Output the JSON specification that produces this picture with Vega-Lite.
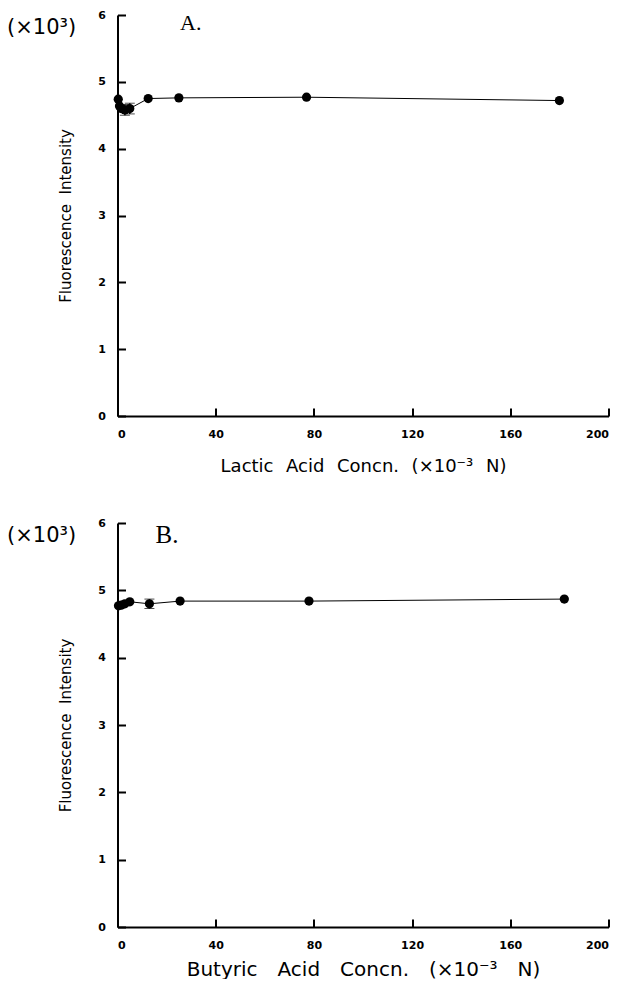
{
  "$schema": "https://vega.github.io/schema/vega-lite/v6.json",
  "padding": {"left": 6.5, "top": 9, "right": 0, "bottom": 0},
  "background": "white",
  "bounds": "flush",
  "spacing": 107,
  "config": {
    "view": {"stroke": null},
    "axis": {
      "domainColor": "black",
      "domainWidth": 2,
      "tickColor": "black",
      "tickWidth": 2,
      "tickSize": -8,
      "grid": false,
      "labelFont": "DejaVu Sans",
      "labelFontWeight": "bold",
      "labelFontSize": 11,
      "labelColor": "black",
      "titleFont": "DejaVu Sans",
      "titleFontWeight": "normal",
      "titleFontSize": 16,
      "titleColor": "black"
    }
  },
  "datasets": {
    "lactic": [
      {"conc": 0.3, "fi": 4.74},
      {"conc": 0.8, "fi": 4.64},
      {"conc": 1.5, "fi": 4.6},
      {"conc": 3, "fi": 4.58, "lo": 4.5, "hi": 4.66},
      {"conc": 5, "fi": 4.6, "lo": 4.52, "hi": 4.68},
      {"conc": 12.5, "fi": 4.75},
      {"conc": 25, "fi": 4.76},
      {"conc": 77, "fi": 4.77},
      {"conc": 180, "fi": 4.72}
    ],
    "butyric": [
      {"conc": 0.4, "fi": 4.77},
      {"conc": 1.5, "fi": 4.78},
      {"conc": 3, "fi": 4.8},
      {"conc": 5, "fi": 4.83},
      {"conc": 13, "fi": 4.8, "lo": 4.73, "hi": 4.87},
      {"conc": 25.5, "fi": 4.84},
      {"conc": 78, "fi": 4.84},
      {"conc": 182, "fi": 4.87}
    ]
  },
  "vconcat": [
    {
      "width": 491,
      "height": 401,
      "data": {"name": "lactic"},
      "layer": [
        {"mark": {"type": "line", "color": "black", "strokeWidth": 1},
         "encoding": {
          "x": {"field": "conc", "type": "quantitative", "scale": {"domain": [0, 200], "nice": false},
            "axis": {"values": [0, 40, 80, 120, 160, 200], "labelPadding": 20, "titlePadding": 18, "titleFontSize": 18,
              "title": "Lactic\u2002\u2009Acid\u2002\u2009Concn.\u2002\u2009(×10⁻³\u2002\u2009N)"}},
          "y": {"field": "fi", "type": "quantitative", "scale": {"domain": [0, 6], "nice": false},
            "axis": {"values": [0, 1, 2, 3, 4, 5, 6], "format": "d", "labelPadding": 20, "titleFontSize": 15, "title": "Fluorescence\u00a0\u00a0Intensity", "titleX": -44}}
         }},
        {"transform": [{"filter": "datum.lo != null"}],
         "mark": {"type": "errorbar", "ticks": {"size": 10, "color": "black", "strokeWidth": 1.5}, "rule": {"color": "black", "strokeWidth": 1.5}},
         "encoding": {"x": {"field": "conc", "type": "quantitative"},
           "y": {"field": "lo", "type": "quantitative", "title": "Fluorescence\u00a0\u00a0Intensity",
             "axis": {"values": [0, 1, 2, 3, 4, 5, 6], "format": "d", "labelPadding": 20, "titleFontSize": 15, "titleX": -44}},
           "y2": {"field": "hi"}}},
        {"mark": {"type": "circle", "color": "black", "opacity": 1, "size": 85},
         "encoding": {"x": {"field": "conc", "type": "quantitative"}, "y": {"field": "fi", "type": "quantitative"}}},
        {"transform": [{"aggregate": [{"op": "count", "as": "n"}]}],
         "mark": {"type": "text", "font": "Liberation Serif", "fontSize": 22, "fontWeight": "normal", "align": "left", "baseline": "alphabetic", "color": "black"},
         "encoding": {"x": {"datum": 25.5}, "y": {"datum": 5.775}, "text": {"value": "A."}}},
        {"transform": [{"aggregate": [{"op": "count", "as": "n"}]}],
         "mark": {"type": "text", "font": "DejaVu Sans", "fontSize": 21, "fontWeight": "normal", "align": "left", "baseline": "middle", "color": "black"},
         "encoding": {"x": {"datum": -45}, "y": {"datum": 5.8}, "text": {"value": "(×10³)"}}}
      ]
    },
    {
      "width": 491,
      "height": 404,
      "data": {"name": "butyric"},
      "layer": [
        {"mark": {"type": "line", "color": "black", "strokeWidth": 1},
         "encoding": {
          "x": {"field": "conc", "type": "quantitative", "scale": {"domain": [0, 200], "nice": false},
            "axis": {"values": [0, 40, 80, 120, 160, 200], "labelPadding": 20, "titlePadding": 9, "titleFontSize": 20,
              "title": "Butyric\u2002\u2002Acid\u2002\u2002Concn.\u2002\u2002(×10⁻³\u2002\u2002N)"}},
          "y": {"field": "fi", "type": "quantitative", "scale": {"domain": [0, 6], "nice": false},
            "axis": {"values": [0, 1, 2, 3, 4, 5, 6], "format": "d", "labelPadding": 20, "titleFontSize": 15, "title": "Fluorescence\u00a0\u00a0Intensity", "titleX": -44}}
         }},
        {"transform": [{"filter": "datum.lo != null"}],
         "mark": {"type": "errorbar", "ticks": {"size": 10, "color": "black", "strokeWidth": 1.5}, "rule": {"color": "black", "strokeWidth": 1.5}},
         "encoding": {"x": {"field": "conc", "type": "quantitative"},
           "y": {"field": "lo", "type": "quantitative", "title": "Fluorescence\u00a0\u00a0Intensity",
             "axis": {"values": [0, 1, 2, 3, 4, 5, 6], "format": "d", "labelPadding": 20, "titleFontSize": 15, "titleX": -44}},
           "y2": {"field": "hi"}}},
        {"mark": {"type": "circle", "color": "black", "opacity": 1, "size": 85},
         "encoding": {"x": {"field": "conc", "type": "quantitative"}, "y": {"field": "fi", "type": "quantitative"}}},
        {"transform": [{"aggregate": [{"op": "count", "as": "n"}]}],
         "mark": {"type": "text", "font": "Liberation Serif", "fontSize": 25, "fontWeight": "normal", "align": "left", "baseline": "alphabetic", "color": "black"},
         "encoding": {"x": {"datum": 15.5}, "y": {"datum": 5.7}, "text": {"value": "B."}}},
        {"transform": [{"aggregate": [{"op": "count", "as": "n"}]}],
         "mark": {"type": "text", "font": "DejaVu Sans", "fontSize": 21, "fontWeight": "normal", "align": "left", "baseline": "middle", "color": "black"},
         "encoding": {"x": {"datum": -45}, "y": {"datum": 5.8}, "text": {"value": "(×10³)"}}}
      ]
    }
  ]
}
